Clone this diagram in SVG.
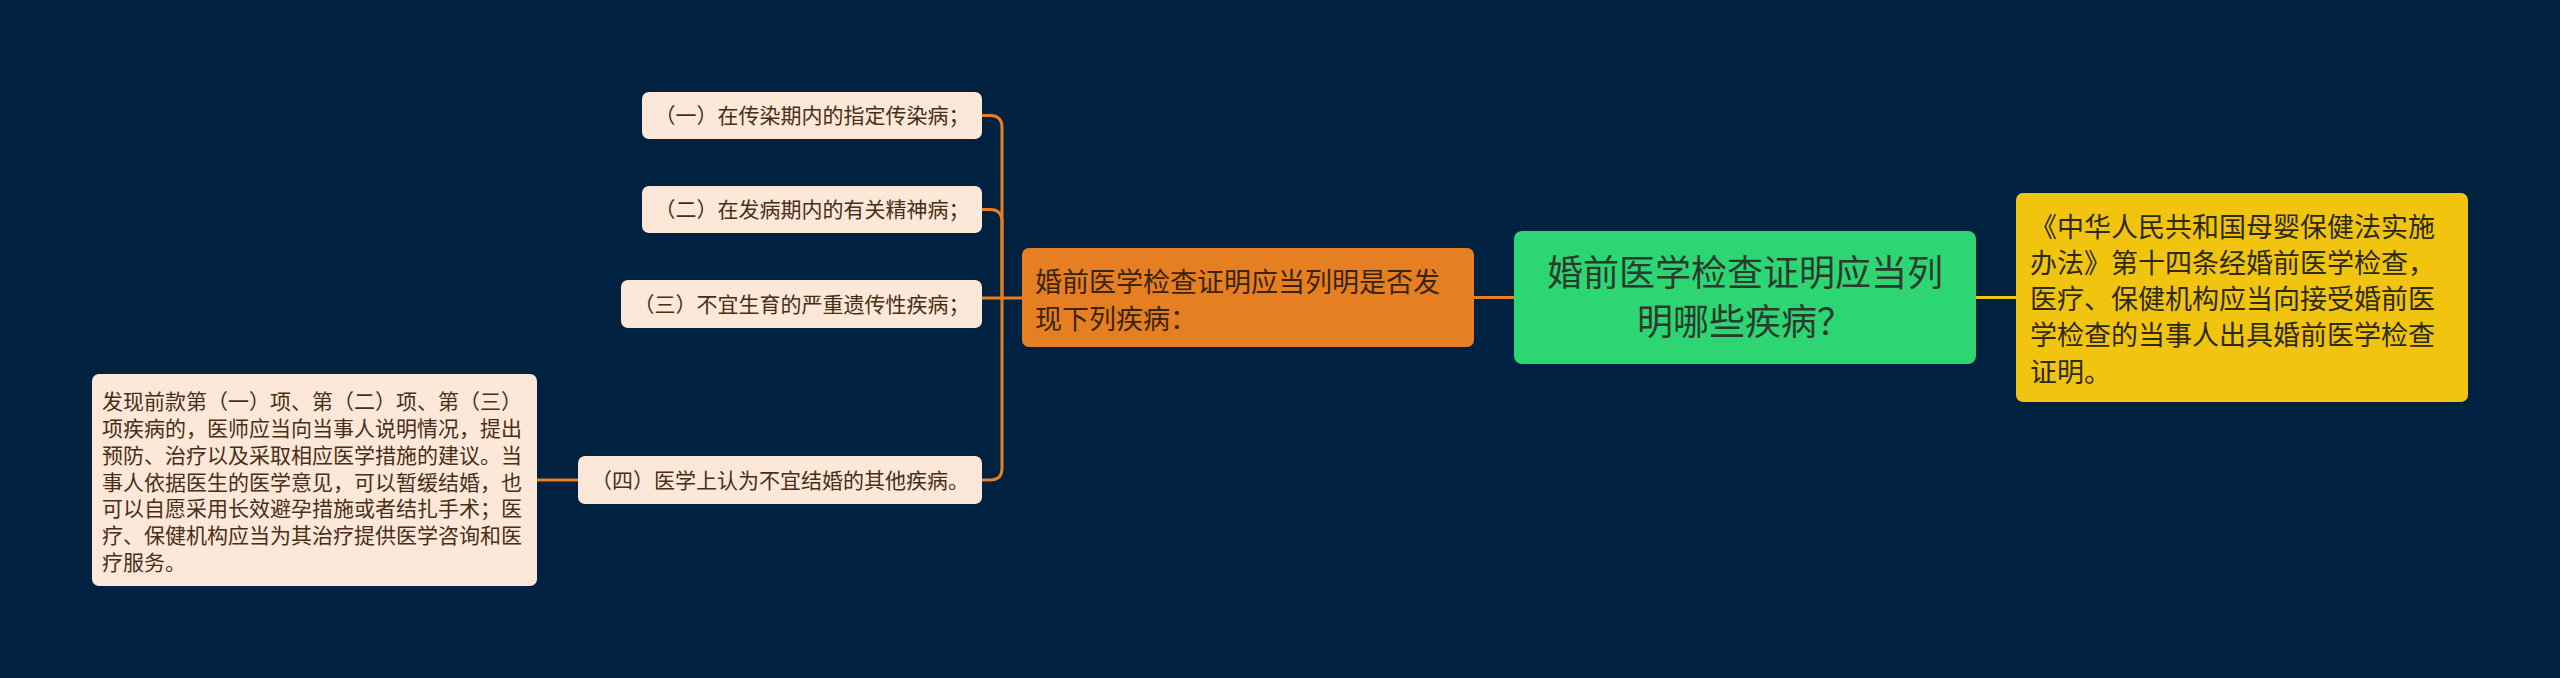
<svg xmlns="http://www.w3.org/2000/svg" width="2560" height="678" viewBox="0 0 2560 678">
<style>
text{font-family:"Noto Sans CJK SC","Noto Sans",sans-serif;}
.leaf rect{fill:#FCE8D8;}
.leaf text{font-size:21px;fill:#4A2E16;}
.conn path{fill:none;stroke-width:3;}
.o{stroke:#E67E22;}
.y{stroke:#F1C40F;}
</style>
<rect width="2560" height="678" fill="#012140"/>
<g class="conn">
<path class="o" d="M982 115.5 H990 Q1002 115.5 1002 127.5 V298"/>
<path class="o" d="M982 209.5 H990 Q1002 209.5 1002 221.5 V298"/>
<path class="o" d="M982 298 H1022"/>
<path class="o" d="M982 480 H990 Q1002 480 1002 468 V298"/>
<path class="o" d="M537 480 H578"/>
<path class="o" d="M1474 297.5 H1514"/>
<path class="y" d="M1976 297.5 H2016"/>
</g>
<g id="root">
<rect x="1514" y="231" width="462" height="133" rx="8" fill="#2ED573"/>
<text x="1745" y="286" font-size="36" fill="#2B3A2E" text-anchor="middle">婚前医学检查证明应当列</text>
<text x="1745" y="335" font-size="36" fill="#2B3A2E" text-anchor="middle">明哪些疾病？</text>
</g>
<g id="law">
<rect x="2016" y="193" width="452" height="209" rx="7" fill="#F1C40F"/>
<text font-size="27" fill="#2E2A14">
<tspan x="2030" y="236.5">《中华人民共和国母婴保健法实施</tspan>
<tspan x="2030" y="272.8">办法》第十四条经婚前医学检查，</tspan>
<tspan x="2030" y="309.1">医疗、保健机构应当向接受婚前医</tspan>
<tspan x="2030" y="345.4">学检查的当事人出具婚前医学检查</tspan>
<tspan x="2030" y="381.7">证明。</tspan>
</text>
</g>
<g id="branch">
<rect x="1022" y="248" width="452" height="99" rx="7" fill="#E67E22"/>
<text font-size="27" fill="#3A2410">
<tspan x="1035" y="291.5">婚前医学检查证明应当列明是否发</tspan>
<tspan x="1035" y="328.5">现下列疾病：</tspan>
</text>
</g>
<g id="leaf1" class="leaf">
<rect x="642" y="92" width="340" height="47" rx="7"/>
<text x="812" y="123" text-anchor="middle">（一）在传染期内的指定传染病；</text>
</g>
<g id="leaf2" class="leaf">
<rect x="642" y="186" width="340" height="47" rx="7"/>
<text x="812" y="217" text-anchor="middle">（二）在发病期内的有关精神病；</text>
</g>
<g id="leaf3" class="leaf">
<rect x="621" y="280" width="361" height="48" rx="7"/>
<text x="801.5" y="311.5" text-anchor="middle">（三）不宜生育的严重遗传性疾病；</text>
</g>
<g id="leaf4" class="leaf">
<rect x="578" y="456" width="404" height="48" rx="7"/>
<text x="780" y="487.5" text-anchor="middle">（四）医学上认为不宜结婚的其他疾病。</text>
</g>
<g id="note" class="leaf">
<rect x="92" y="374" width="445" height="212" rx="7"/>
<text>
<tspan x="102" y="409.4">发现前款第（一）项、第（二）项、第（三）</tspan>
<tspan x="102" y="436.1">项疾病的，医师应当向当事人说明情况，提出</tspan>
<tspan x="102" y="462.8">预防、治疗以及采取相应医学措施的建议。当</tspan>
<tspan x="102" y="489.5">事人依据医生的医学意见，可以暂缓结婚，也</tspan>
<tspan x="102" y="516.2">可以自愿采用长效避孕措施或者结扎手术；医</tspan>
<tspan x="102" y="542.9">疗、保健机构应当为其治疗提供医学咨询和医</tspan>
<tspan x="102" y="569.6">疗服务。</tspan>
</text>
</g>
</svg>
